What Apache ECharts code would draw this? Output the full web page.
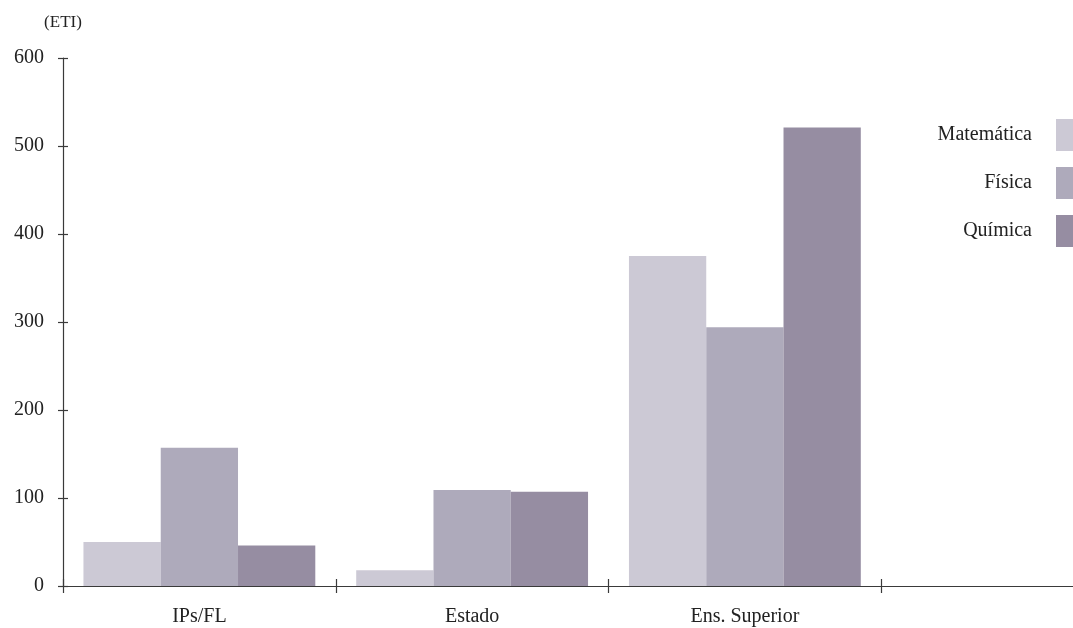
<!DOCTYPE html>
<html>
<head>
<meta charset="utf-8">
<script src="https://cdn.jsdelivr.net/npm/echarts@6/dist/echarts.min.js"></script>
<style>
  html, body { margin: 0; padding: 0; background: #fff; }
  #chart { width: 1073px; height: 628px; }
</style>
</head>
<body>
<div id="chart"></div>
<script>
// Categories along the x axis (the fourth slot is left empty)
const categories = ['IPs/FL', 'Estado', 'Ens. Superior', ''];
// ETI per sector and field
const matematica = [50, 18, 375, null];
const fisica = [157, 109, 294, null];
const quimica = [46, 107, 521, null];
const yTicks = [0, 100, 200, 300, 400, 500, 600];

const FONT = '"Liberation Serif", "DejaVu Serif", serif';
const TEXT = '#222';
const AXIS = '#3a3a3a';
const colors = ['#ccc9d5', '#aeaabb', '#968da2'];

const chart = echarts.init(document.getElementById('chart'), null, { renderer: 'canvas' });

const baseY = {
  type: 'value',
  min: yTicks[0],
  max: yTicks[yTicks.length - 1],
  interval: yTicks[1] - yTicks[0],
  splitLine: { show: false },
  position: 'left'
};

chart.setOption({
  animation: false,
  backgroundColor: '#fff',
  color: colors,
  textStyle: { fontFamily: FONT, color: TEXT },
  // the plot runs past the right edge; the last slot is cut off
  grid: { left: 63, top: 58, bottom: 42, width: 1091, containLabel: false, outerBoundsMode: 'none' },
  legend: {
    orient: 'vertical',
    right: 0,
    top: 119,
    padding: 0,
    align: 'right',
    icon: 'rect',
    itemWidth: 17,
    itemHeight: 32,
    itemGap: 16,
    textStyle: { fontFamily: FONT, fontSize: 20, color: TEXT, padding: [4, 19, 0, 0] },
    data: ['Matemática', 'Física', 'Química']
  },
  xAxis: [
    {
      type: 'category',
      data: categories,
      position: 'bottom',
      axisLine: { show: true, lineStyle: { color: AXIS, width: 1.2 } },
      axisTick: { show: true, inside: false, length: 7, lineStyle: { color: AXIS, width: 1.2 } },
      axisLabel: { fontFamily: FONT, fontSize: 20, color: TEXT, margin: 21 },
      splitLine: { show: false }
    },
    {
      type: 'category',
      data: categories,
      position: 'bottom',
      axisLine: { show: false },
      axisTick: { show: true, inside: true, length: 7, lineStyle: { color: AXIS, width: 1.2 } },
      axisLabel: { show: false },
      splitLine: { show: false }
    }
  ],
  yAxis: [
    Object.assign({}, baseY, {
      name: '(ETI)',
      nameLocation: 'end',
      nameGap: 27,
      nameTextStyle: { fontFamily: FONT, fontSize: 17, color: TEXT, align: 'center' },
      axisLine: { show: true, lineStyle: { color: AXIS, width: 1.2 } },
      axisTick: { show: true, inside: false, length: 5, lineStyle: { color: AXIS, width: 1.2 } },
      axisLabel: { fontFamily: FONT, fontSize: 20, color: TEXT, margin: 19 }
    }),
    Object.assign({}, baseY, {
      axisLine: { show: false },
      axisTick: { show: true, inside: true, length: 5, lineStyle: { color: AXIS, width: 1.2 } },
      axisLabel: { show: false }
    })
  ],
  series: [
    { name: 'Matemática', type: 'bar', data: matematica, barGap: '0%', barCategoryGap: '15%' },
    { name: 'Física', type: 'bar', data: fisica, barGap: '0%', barCategoryGap: '15%' },
    { name: 'Química', type: 'bar', data: quimica, barGap: '0%', barCategoryGap: '15%' }
  ]
});
</script>
</body>
</html>
